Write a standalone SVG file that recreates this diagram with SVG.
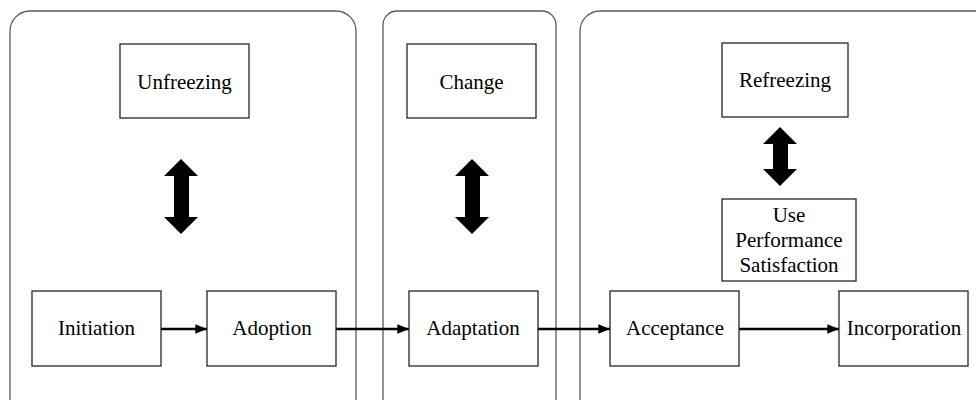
<svg xmlns="http://www.w3.org/2000/svg" width="976" height="400" viewBox="0 0 976 400">
<defs>
<style>
.panel{fill:none;stroke:#595959;stroke-width:1.3}
.box{fill:#fff;stroke:#262626;stroke-width:1.3}
.t{font-family:"Liberation Serif","Times New Roman",serif;font-size:21px;fill:#000;text-anchor:middle}
.conn{stroke:#000;stroke-width:2.6;fill:none}
.dbl{fill:#000}
</style>
<marker id="ah" viewBox="0 0 10 10" refX="10" refY="5" markerWidth="4.5" markerHeight="4.5" orient="auto" markerUnits="strokeWidth">
<path d="M0,1 L10,5 L0,9 Z" fill="#000"/>
</marker>
</defs>
<g id="panels">
<rect class="panel" x="10" y="11" width="346" height="410" rx="20"/>
<rect class="panel" x="383" y="11" width="173" height="410" rx="14"/>
<rect class="panel" x="580" y="11" width="420" height="410" rx="20"/>
</g>
<g id="double-arrows">
<path class="dbl" d="M181,159 L198,176 L189,176 L189,217 L198,217 L181,234 L164,217 L174,217 L174,176 L164,176 Z"/>
<path class="dbl" d="M472,159 L489,176 L480,176 L480,217 L489,217 L472,234 L455,217 L465,217 L465,176 L455,176 Z"/>
<path class="dbl" d="M780,127 L797,144 L788,144 L788,169 L797,169 L780,186 L763,169 L773,169 L773,144 L763,144 Z"/>
</g>
<g id="connectors">
<line class="conn" x1="161" y1="329" x2="207" y2="329" marker-end="url(#ah)"/>
<line class="conn" x1="336" y1="329" x2="409" y2="329" marker-end="url(#ah)"/>
<line class="conn" x1="538" y1="329" x2="610" y2="329" marker-end="url(#ah)"/>
<line class="conn" x1="739" y1="329" x2="839" y2="329" marker-end="url(#ah)"/>
</g>
<g id="unfreezing"><rect class="box" x="120" y="44" width="129" height="74"/><text class="t" x="184.5" y="89">Unfreezing</text></g>
<g id="change"><rect class="box" x="407" y="44" width="129" height="74"/><text class="t" x="471.5" y="89">Change</text></g>
<g id="refreezing"><rect class="box" x="722" y="43" width="126" height="74"/><text class="t" x="785" y="87">Refreezing</text></g>
<g id="use"><rect class="box" x="722" y="199" width="134" height="82"/><text class="t" x="789" y="222">Use</text><text class="t" x="789" y="247">Performance</text><text class="t" x="789" y="272">Satisfaction</text></g>
<g id="initiation"><rect class="box" x="32" y="291" width="129" height="75"/><text class="t" x="96.5" y="335">Initiation</text></g>
<g id="adoption"><rect class="box" x="207" y="291" width="129" height="75"/><text class="t" x="272" y="335">Adoption</text></g>
<g id="adaptation"><rect class="box" x="409" y="291" width="129" height="75"/><text class="t" x="473" y="335">Adaptation</text></g>
<g id="acceptance"><rect class="box" x="610" y="291" width="129" height="75"/><text class="t" x="675" y="335">Acceptance</text></g>
<g id="incorporation"><rect class="box" x="839" y="291" width="129" height="75"/><text class="t" x="904" y="335">Incorporation</text></g>
</svg>
